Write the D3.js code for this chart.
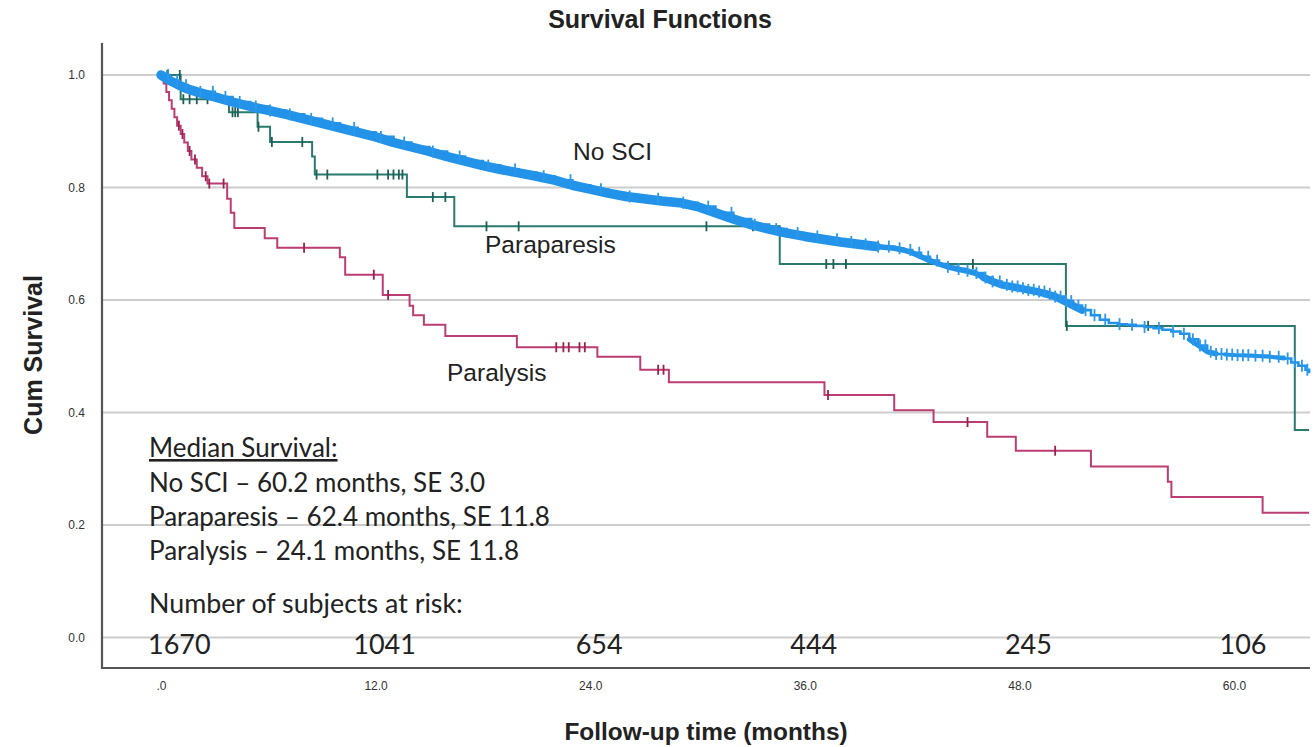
<!DOCTYPE html>
<html>
<head>
<meta charset="utf-8">
<script src="https://cdn.jsdelivr.net/npm/d3@7"></script>
<style>
  html, body { margin: 0; padding: 0; background: #fff; }
  svg { display: block; }
</style>
</head>
<body>
<svg id="chart" width="1316" height="747"></svg>
<script>
// ---- Kaplan-Meier step data: [month, cumulative survival] ----
const noSciSteps = [
  [0, 1.000], [0.5, 0.990], [1, 0.982], [1.5, 0.975], [2, 0.970], [3, 0.961],
  [4, 0.952], [5, 0.944], [6, 0.937], [7, 0.930], [8, 0.922], [9, 0.914],
  [10, 0.906], [11, 0.898], [12, 0.890], [13, 0.880], [14, 0.872], [15, 0.864],
  [16, 0.855], [17, 0.847], [18, 0.839], [19, 0.832], [20, 0.826], [21, 0.820],
  [22, 0.813], [23, 0.804], [24, 0.797], [25, 0.790], [26, 0.784], [27, 0.780],
  [28, 0.776], [29, 0.773], [30, 0.766], [31, 0.755], [32, 0.744], [33, 0.734],
  [34, 0.726], [35, 0.719], [36, 0.713], [37, 0.708], [38, 0.703], [39, 0.699],
  [40, 0.695], [41, 0.692], [41.5, 0.689], [42, 0.684], [42.5, 0.677], [43, 0.670],
  [43.5, 0.664], [44, 0.659], [44.5, 0.655], [45, 0.652], [45.5, 0.648], [46, 0.640],
  [46.5, 0.633], [47, 0.627], [47.5, 0.624], [48, 0.621], [48.5, 0.618], [49, 0.615],
  [49.5, 0.611], [50, 0.606], [50.5, 0.598], [51, 0.590], [51.5, 0.582], [52, 0.573],
  [52.5, 0.565], [53, 0.559], [53.5, 0.557], [54, 0.556], [54.5, 0.554], [55, 0.552],
  [55.5, 0.550], [56, 0.547], [56.5, 0.544], [57, 0.540], [57.5, 0.530], [58, 0.519],
  [58.5, 0.508], [59, 0.504], [59.5, 0.503], [60, 0.502], [61, 0.501], [62, 0.499],
  [62.8, 0.496], [63.2, 0.489], [63.6, 0.483], [64, 0.476], [64.2, 0.470]
];
const noSciCensored = [
  0.4, 0.9, 1.4, 2.2, 2.9, 3.6, 4.4, 5.3, 6.1, 7.2, 8.4, 9.6, 10.8, 12.3, 13.6,
  15.2, 16.7, 18.3, 19.8, 21.4, 22.9, 24.6, 26.2, 27.8, 29.2, 30.6, 31.9, 33.2,
  34.4, 35.6, 36.7, 37.8, 38.6, 39.4, 40.1, 40.7, 41.3, 41.9, 42.4, 42.9, 43.4,
  44.0, 44.6, 45.1, 45.6, 46.1, 46.5, 46.9, 47.3, 47.6, 47.9, 48.2, 48.5, 48.8,
  49.1, 49.4, 49.7, 50.0, 50.3, 50.6, 50.9, 51.3, 51.7, 52.2, 52.8, 53.6, 54.3,
  55.0, 55.8, 56.6, 57.2, 57.7, 58.1, 58.4, 58.7, 59.0, 59.3, 59.6, 59.9, 60.2,
  60.5, 60.8, 61.2, 61.6, 62.0, 62.5, 63.0, 63.4, 63.8, 64.1
];

const paraparesisSteps = [
  [0, 1.000], [1.1, 0.957], [3.8, 0.934], [5.4, 0.908], [6.1, 0.881],
  [8.45, 0.855], [8.6, 0.823], [13.75, 0.783], [16.4, 0.731], [34.6, 0.664],
  [50.6, 0.554], [63.4, 0.369], [64.2, 0.369]
];
const paraparesisCensored = [
  0.35, 1.05, 1.25, 1.6, 2.0, 2.6, 4.0, 4.15, 4.3, 5.45, 6.2, 7.9, 8.7, 9.3,
  12.1, 12.7, 13.0, 13.3, 13.5, 15.2, 15.9, 18.2, 20.0, 30.5, 33.1, 37.2, 37.6,
  38.3, 45.4, 50.65, 55.2
];

const paralysisSteps = [
  [0, 1.000], [0.15, 0.985], [0.3, 0.970], [0.45, 0.955], [0.6, 0.940],
  [0.75, 0.925], [0.9, 0.910], [1.1, 0.895], [1.3, 0.880], [1.5, 0.865],
  [1.7, 0.850], [2.0, 0.835], [2.3, 0.820], [2.6, 0.807], [3.7, 0.780],
  [3.9, 0.755], [4.1, 0.728], [5.8, 0.710], [6.5, 0.693], [10.0, 0.676],
  [10.3, 0.645], [12.4, 0.609], [13.9, 0.590], [14.1, 0.573], [14.7, 0.556],
  [15.9, 0.536], [19.9, 0.516], [24.4, 0.499], [26.8, 0.476], [28.4, 0.454],
  [37.1, 0.431], [41.0, 0.404], [43.2, 0.383], [46.2, 0.357], [47.8, 0.332],
  [52.0, 0.304], [56.3, 0.277], [56.5, 0.250], [61.6, 0.222], [64.2, 0.222]
];
const paralysisCensored = [
  1.0, 1.2, 1.6, 1.9, 2.5, 2.7, 3.5, 8.0, 11.9, 12.7, 22.1, 22.5, 22.8, 23.4,
  23.7, 27.8, 28.1, 37.3, 45.1, 50.0
];

// ---- Axis ticks, labels and annotations ----
const yTicks = [0, 0.2, 0.4, 0.6, 0.8, 1.0];
const xTicks = [0, 12, 24, 36, 48, 60];
const atRiskMonths = [0, 12, 24, 36, 48, 60];
const atRiskCounts = [1670, 1041, 654, 444, 245, 106];
const medianLines = [
  "No SCI \u2013 60.2 months, SE 3.0",
  "Paraparesis \u2013 62.4 months, SE 11.8",
  "Paralysis \u2013 24.1 months, SE 11.8"
];
const seriesNames = ["No SCI", "Paraparesis", "Paralysis"];

// ---- Layout ----
const svg = d3.select("#chart");
const plot = { left: 102, right: 1310, top: 43, bottom: 668 };

const x = d3.scaleLinear().domain([0, 60]).range([161, 1234]);
const y = d3.scaleLinear().domain([0, 1]).range([637.5, 75]);

const colors = { noSci: "#2293e8", para: "#2a7a6f", paral: "#bb3d73" };
const markColors = { noSci: "#2a98ec", para: "#1f5f55", paral: "#99204f" };

// Gridlines
svg.append("g")
  .selectAll("line")
  .data(yTicks)
  .join("line")
  .attr("x1", plot.left).attr("x2", plot.right)
  .attr("y1", d => y(d)).attr("y2", d => y(d))
  .attr("stroke", "#cdcdcd").attr("stroke-width", 2);

// Axes (labels only, no tick marks)
const yAxis = svg.append("g")
  .attr("transform", `translate(${plot.left - 14},0)`)
  .call(d3.axisLeft(y).tickValues(yTicks).tickSize(0).tickFormat(d3.format(".1f")));
const xAxis = svg.append("g")
  .attr("transform", `translate(0,${plot.bottom + 10})`)
  .call(d3.axisBottom(x).tickValues(xTicks).tickSize(0)
    .tickFormat(d => d === 0 ? ".0" : d3.format(".1f")(d)));
[yAxis, xAxis].forEach(a => {
  a.select(".domain").remove();
  a.selectAll("text")
    .attr("font-family", "Liberation Sans, Arial, sans-serif")
    .attr("font-size", 12)
    .attr("fill", "#333");
});
xAxis.selectAll("text").attr("dy", "0.71em");

// Axis lines
svg.append("line")
  .attr("x1", plot.left).attr("x2", plot.left)
  .attr("y1", plot.top).attr("y2", plot.bottom + 1)
  .attr("stroke", "#555").attr("stroke-width", 2.2);
svg.append("line")
  .attr("x1", plot.left - 1).attr("x2", plot.right)
  .attr("y1", plot.bottom).attr("y2", plot.bottom)
  .attr("stroke", "#555").attr("stroke-width", 2.2);

// Step-function helpers
const stepLine = d3.line()
  .x(d => x(d[0])).y(d => y(d[1]))
  .curve(d3.curveStepAfter);
const bandLine = d3.line()
  .x(d => x(d[0])).y(d => y(d[1]))
  .curve(d3.curveLinear);
function survivalAt(steps, t) {
  let v = steps[0][1];
  for (const s of steps) { if (s[0] <= t) v = s[1]; else break; }
  return v;
}
function drawCensors(steps, times, color, h) {
  svg.append("g")
    .selectAll("line")
    .data(times)
    .join("line")
    .attr("x1", d => x(d)).attr("x2", d => x(d))
    .attr("y1", d => y(survivalAt(steps, d)) - h / 2)
    .attr("y2", d => y(survivalAt(steps, d)) + h / 2)
    .attr("stroke", color).attr("stroke-width", 1.8);
}

// Paralysis
svg.append("path")
  .attr("d", stepLine(paralysisSteps))
  .attr("fill", "none").attr("stroke", colors.paral).attr("stroke-width", 2);
drawCensors(paralysisSteps, paralysisCensored, markColors.paral, 10);

// Paraparesis
svg.append("path")
  .attr("d", stepLine(paraparesisSteps))
  .attr("fill", "none").attr("stroke", colors.para).attr("stroke-width", 2);
drawCensors(paraparesisSteps, paraparesisCensored, markColors.para, 10);

// No SCI: dense censoring makes most of the curve read as a thick band
const bandWidths = [[0, 40, 9.5], [40, 46, 5.5], [46, 51.5, 7.5], [57.5, 59, 5], [59.5, 62.8, 4]];
bandWidths.forEach(([t0, t1, w]) => {
  const seg = noSciSteps.filter(d => d[0] >= t0 && d[0] <= t1);
  svg.append("path")
    .attr("d", bandLine(seg))
    .attr("fill", "none").attr("stroke", colors.noSci)
    .attr("stroke-width", w).attr("stroke-linejoin", "round").attr("stroke-linecap", "round");
});
svg.append("path")
  .attr("d", stepLine(noSciSteps))
  .attr("fill", "none").attr("stroke", colors.noSci).attr("stroke-width", 2.6);
drawCensors(noSciSteps, noSciCensored, markColors.noSci, 12);

// Series labels
const seriesLabelPos = [[573, 160], [485, 253], [447, 381]];
svg.append("g")
  .selectAll("text")
  .data(seriesNames)
  .join("text")
  .attr("x", (d, i) => seriesLabelPos[i][0])
  .attr("y", (d, i) => seriesLabelPos[i][1])
  .attr("font-family", "Liberation Sans, Arial, sans-serif")
  .attr("font-size", 24.5)
  .attr("fill", "#222")
  .text(d => d);

// Median survival notes
const noteFont = "Lato, 'Open Sans', sans-serif";
svg.append("text")
  .attr("x", 149).attr("y", 457)
  .attr("font-family", noteFont).attr("font-size", 26).attr("fill", "#222")
  .attr("text-decoration", "underline")
  .text("Median Survival:");
svg.append("g")
  .selectAll("text")
  .data(medianLines)
  .join("text")
  .attr("x", 149)
  .attr("y", (d, i) => 492 + i * 34)
  .attr("font-family", noteFont).attr("font-size", 26).attr("fill", "#222")
  .text(d => d);

// Numbers at risk
svg.append("text")
  .attr("x", 149).attr("y", 613)
  .attr("font-family", noteFont).attr("font-size", 26.8).attr("fill", "#222")
  .text("Number of subjects at risk:");
svg.append("g")
  .selectAll("text")
  .data(atRiskCounts)
  .join("text")
  .attr("x", (d, i) => i === 0 ? 148 : x(atRiskMonths[i]) + 9)
  .attr("y", 654)
  .attr("text-anchor", (d, i) => i === 0 ? "start" : "middle")
  .attr("font-family", noteFont).attr("font-size", 27).attr("fill", "#222")
  .text(d => d);

// Titles
svg.append("text")
  .attr("x", 660).attr("y", 28)
  .attr("text-anchor", "middle")
  .attr("font-family", "Liberation Sans, Arial, sans-serif")
  .attr("font-size", 25).attr("font-weight", "bold").attr("fill", "#222")
  .text("Survival Functions");
svg.append("text")
  .attr("x", 706).attr("y", 740)
  .attr("text-anchor", "middle")
  .attr("font-family", "Liberation Sans, Arial, sans-serif")
  .attr("font-size", 24.4).attr("font-weight", "bold").attr("fill", "#222")
  .text("Follow-up time (months)");
svg.append("text")
  .attr("transform", "translate(42,355) rotate(-90)")
  .attr("text-anchor", "middle")
  .attr("font-family", "Liberation Sans, Arial, sans-serif")
  .attr("font-size", 25).attr("font-weight", "bold").attr("fill", "#222")
  .text("Cum Survival");
</script>
</body>
</html>
